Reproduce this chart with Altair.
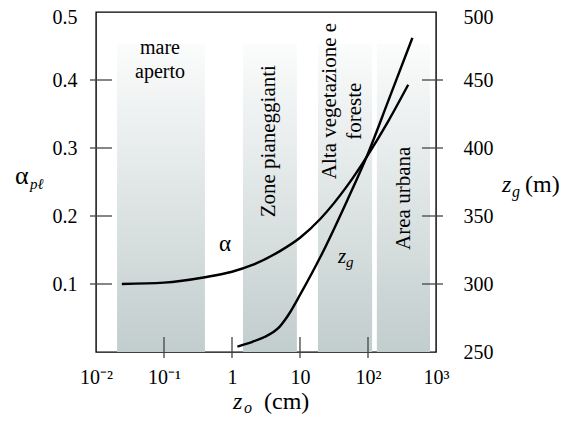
import math
import altair as alt
import pandas as pd

FONT = "Liberation Serif"

# ---------------- data ----------------
zone_start = [0.0204, 1.45, 18.4, 135]
zone_end = [0.40, 9.0, 115, 816]
zone_top = [0.453, 0.453, 0.453, 0.453]
zone_bottom = [0, 0, 0, 0]

alpha_z = [0.024, 0.1, 0.4, 1, 2, 5, 10, 20, 50, 100, 200, 390]
alpha_val = [0.100, 0.102, 0.110, 0.118, 0.128, 0.148, 0.168, 0.196, 0.245, 0.290, 0.340, 0.393]

zg_z = [1.2, 2, 3, 4, 5, 6, 7, 10, 20, 50, 100, 200, 450]
zg_val = [254, 257.5, 261, 264.5, 268.5, 273.5, 278.5, 292, 320, 362, 396, 435, 481]

x_ticks = [0.01, 0.1, 1, 10, 100, 1000]
x_labels = ["10⁻²", "10⁻¹", "1", "10", "10²", "10³"]
x_inner_ticks = [0.1, 1, 10, 100]
alpha_ticks = [0.1, 0.2, 0.3, 0.4, 0.5]
alpha_inner_ticks = [0.1, 0.2, 0.3, 0.4]
zg_ticks = [250, 300, 350, 400, 450, 500]
zg_inner_ticks = [300, 350, 400, 450]

# horizontal zone label
h_text = ["mare", "aperto"]
h_z = [0.0873, 0.0873]
h_a = [0.438, 0.403]
# rotated zone labels
r_text = ["Zone pianeggianti", "Alta vegetazione e", "foreste", "Area urbana"]
r_z = [3.56, 27.6, 64.4, 344]
r_a = [0.310, 0.369, 0.354, 0.226]

# ---------------- scales / axes ----------------
xs = alt.Scale(type="log", domain=[0.01, 1000], nice=False)
ys_a = alt.Scale(domain=[0, 0.5], nice=False, zero=False)
ys_g = alt.Scale(domain=[250, 500], nice=False, zero=False)

e = "round(log(datum.value)/LN10)"
expr = "'" + x_labels[-1] + "'"
for t, lab in reversed(list(zip(x_ticks[:-1], x_labels[:-1]))):
    expr = f"{e} == {round(math.log10(t))} ? '{lab}' : ({expr})"

x_axis = alt.Axis(values=x_ticks, labelExpr=expr, ticks=False, domain=False, grid=False,
                  title=None, labelFont=FONT, labelFontSize=20, labelColor="black",
                  labelPadding=15, labelFlush=False, labelBaseline="top")
left_axis = alt.Axis(values=alpha_ticks, format=".1f", orient="left", ticks=False, domain=False,
                     grid=False, title=None, labelFont=FONT, labelFontSize=20,
                     labelColor="black", labelPadding=19, labelFlush=False,
                     labelOffset=alt.expr("datum.value > 0.45 ? 5 : 0"))
right_axis = alt.Axis(values=zg_ticks, orient="right", ticks=False, domain=False, grid=False,
                      title=None, labelFont=FONT, labelFontSize=20, labelColor="black",
                      labelPadding=27, labelAlign="left", labelFlush=False,
                      labelOffset=alt.expr("datum.value > 475 ? 5 : 0"))


def X(f):
    return alt.X(f, type="quantitative", scale=xs, axis=x_axis)


def YA(f):
    return alt.Y(f, type="quantitative", scale=ys_a, axis=left_axis)


def YG(f):
    return alt.Y(f, type="quantitative", scale=ys_g, axis=right_axis)


grad = alt.Gradient(gradient="linear",
                    stops=[alt.GradientStop(color="#fbfcfc", offset=0),
                           alt.GradientStop(color="#c2cdcd", offset=1)],
                    x1=0, x2=0, y1=0, y2=1)

bands = alt.Chart(pd.DataFrame({"s": zone_start, "e": zone_end, "t": zone_top, "b": zone_bottom})).mark_rect(
    fill=grad).encode(x=X("s"), x2="e", y=YA("t"), y2="b")

alpha_line = alt.Chart(pd.DataFrame({"z": alpha_z, "a": alpha_val})).mark_line(
    color="black", strokeWidth=2.4, interpolate="monotone").encode(x=X("z"), y=YA("a"))

zg_line = alt.Chart(pd.DataFrame({"z": zg_z, "g": zg_val})).mark_line(
    color="black", strokeWidth=2.4, interpolate="monotone").encode(x=X("z"), y=YG("g"))

TICK = "#444444"
left_ticks = alt.Chart(pd.DataFrame({"v": alpha_inner_ticks})).mark_rule(color=TICK, strokeWidth=1.3).encode(
    y=YA("v"), x=alt.value(-6), x2=alt.value(16))
bottom_ticks = alt.Chart(pd.DataFrame({"v": x_inner_ticks})).mark_rule(color=TICK, strokeWidth=1.3).encode(
    x=X("v"), y=alt.value(325), y2=alt.value(346))
right_ticks = alt.Chart(pd.DataFrame({"v": zg_inner_ticks})).mark_rule(color=TICK, strokeWidth=1.3).encode(
    y=YG("v"), x=alt.value(326), x2=alt.value(347))

h_labels = alt.Chart(pd.DataFrame({"t": h_text, "z": h_z, "a": h_a})).mark_text(
    font=FONT, fontSize=20, align="center", baseline="alphabetic", color="black").encode(
    x=X("z"), y=YA("a"), text="t:N")
r_labels = alt.Chart(pd.DataFrame({"t": r_text, "z": r_z, "a": r_a})).mark_text(
    font=FONT, fontSize=21, align="center", baseline="middle", angle=270, color="black").encode(
    x=X("z"), y=YA("a"), text="t:N")

alpha_lab = alt.Chart(pd.DataFrame({"t": ["α"], "z": [0.789], "a": [0.159]})).mark_text(
    font=FONT, fontSize=23, align="center", baseline="middle", color="black").encode(
    x=X("z"), y=YA("a"), text="t:N")
zg_lab_z = alt.Chart(pd.DataFrame({"t": ["z"], "z": [36.2], "a": [0.131]})).mark_text(
    font=FONT, fontSize=21, fontStyle="italic", align="left", baseline="alphabetic", color="black").encode(
    x=X("z"), y=YA("a"), text="t:N")
zg_lab_g = alt.Chart(pd.DataFrame({"t": ["g"], "z": [47.5], "a": [0.125]})).mark_text(
    font=FONT, fontSize=15, fontStyle="italic", align="left", baseline="alphabetic", color="black").encode(
    x=X("z"), y=YA("a"), text="t:N")


def title_piece(text, x, y, size, italic=False):
    kw = dict(font=FONT, fontSize=size, align="left", baseline="alphabetic", color="black", text=text)
    if italic:
        kw["fontStyle"] = "italic"
    return alt.Chart(pd.DataFrame({"k": [0]})).mark_text(**kw).encode(x=alt.value(x), y=alt.value(y))


titles = [
    title_piece("α", -81, 172, 26),
    title_piece("pℓ", -66, 177, 15, italic=True),
    title_piece("z", 406, 180, 24, italic=True),
    title_piece("g", 416, 185, 16, italic=True),
    title_piece("(m)", 429, 180, 24),
    title_piece("z", 137, 397, 24, italic=True),
    title_piece("o", 148, 401, 16, italic=True),
    title_piece("(cm)", 168, 397, 24),
]

left = alt.layer(bands, alpha_line, left_ticks, bottom_ticks, h_labels, r_labels,
                 alpha_lab, zg_lab_z, zg_lab_g, *titles)
right = alt.layer(zg_line, right_ticks)

chart = alt.layer(left, right).resolve_scale(y="independent").properties(
    width=340, height=340,
    background="white",
    autosize=alt.AutoSizeParams(type="none"),
    padding={"left": 88, "top": 4, "right": 126, "bottom": 64},
).configure_view(stroke="black", strokeWidth=1.4).configure_axis(
    labelFont=FONT, labelFontSize=20, labelColor="black")

chart.save("out.html", embed_options={"renderer": "svg", "actions": False})
